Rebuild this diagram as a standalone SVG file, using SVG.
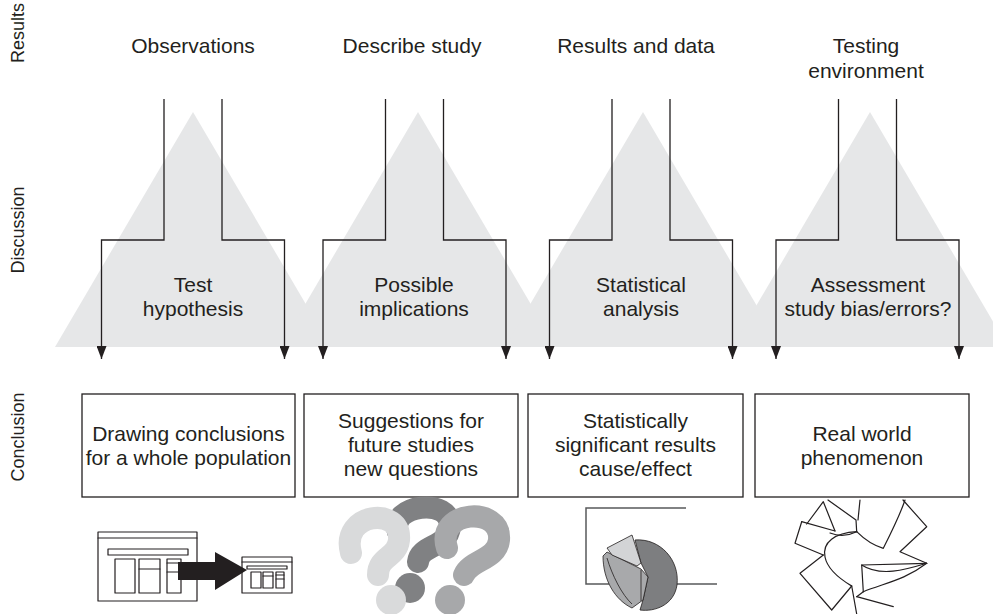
<svg xmlns="http://www.w3.org/2000/svg" width="993" height="614" viewBox="0 0 993 614">
  <defs>
    <marker id="head" viewBox="0 0 13 10" refX="13" refY="5" markerWidth="13" markerHeight="10" markerUnits="userSpaceOnUse" orient="auto">
      <path d="M0,0 L13,5 L0,10 Z" fill="#231f20"/>
    </marker>
  </defs>
  <style>
    text { font-family: "Liberation Sans", Arial, Helvetica, sans-serif; fill: #231f20; }
    .lbl { font-size: 21px; text-anchor: middle; }
    .side { font-size: 18px; text-anchor: middle; }
    .tri { fill: #e6e7e8; }
    .box { fill: #ffffff; stroke: #231f20; stroke-width: 1.3; }
    .flow { fill: none; stroke: #231f20; stroke-width: 1.3; marker-end: url(#head); }
    .ink { fill: none; stroke: #231f20; stroke-width: 1.2; stroke-linejoin: round; stroke-linecap: round; }
  </style>

  <rect width="993" height="614" fill="#ffffff"/>

  <!-- row captions -->
  <g id="row-labels">
    <text class="side" transform="translate(24,33) rotate(-90)">Results</text>
    <text class="side" transform="translate(24,230) rotate(-90)">Discussion</text>
    <text class="side" transform="translate(24,437) rotate(-90)">Conclusion</text>
  </g>

  <!-- grey discussion peaks -->
  <g id="peaks">
    <polygon class="tri" points="193,112 331,347 55,347"/>
    <polygon class="tri" points="418,112 556,347 280,347"/>
    <polygon class="tri" points="643,112 781,347 505,347"/>
    <polygon class="tri" points="870,112 1008,347 732,347"/>
  </g>

  <!-- results labels -->
  <g id="res-observations"><text class="lbl" x="193" y="53">Observations</text></g>
  <g id="res-describe"><text class="lbl" x="412" y="53">Describe study</text></g>
  <g id="res-data"><text class="lbl" x="636" y="53">Results and data</text></g>
  <g id="res-testing">
    <text class="lbl" x="866" y="53">Testing</text>
    <text class="lbl" x="866" y="78">environment</text>
  </g>

  <!-- connectors -->
  <g id="connectors">
    <path class="flow" d="M164,99 V240 H101.5 V359"/>
    <path class="flow" d="M222,99 V240 H284.5 V359"/>
    <path class="flow" d="M385.5,99 V240 H323 V359"/>
    <path class="flow" d="M443.5,99 V240 H506 V359"/>
    <path class="flow" d="M612,99 V240 H549.5 V359"/>
    <path class="flow" d="M670,99 V240 H732.5 V359"/>
    <path class="flow" d="M838.5,99 V240 H776 V359"/>
    <path class="flow" d="M896.5,99 V240 H959 V359"/>
  </g>

  <!-- discussion labels -->
  <g id="dis-test">
    <text class="lbl" x="193" y="292">Test</text>
    <text class="lbl" x="193" y="316">hypothesis</text>
  </g>
  <g id="dis-implications">
    <text class="lbl" x="414" y="292">Possible</text>
    <text class="lbl" x="414" y="316">implications</text>
  </g>
  <g id="dis-statistical">
    <text class="lbl" x="641" y="292">Statistical</text>
    <text class="lbl" x="641" y="316">analysis</text>
  </g>
  <g id="dis-assessment">
    <text class="lbl" x="868" y="292">Assessment</text>
    <text class="lbl" x="868" y="316">study bias/errors?</text>
  </g>

  <!-- conclusion boxes -->
  <g id="con-population">
    <rect class="box" x="82" y="394" width="213" height="103"/>
    <text class="lbl" x="188.5" y="440.5">Drawing conclusions</text>
    <text class="lbl" x="188.5" y="464.5">for a whole population</text>
  </g>
  <g id="con-future">
    <rect class="box" x="304" y="394" width="214" height="103"/>
    <text class="lbl" x="411" y="428">Suggestions for</text>
    <text class="lbl" x="411" y="452">future studies</text>
    <text class="lbl" x="411" y="476">new questions</text>
  </g>
  <g id="con-significant">
    <rect class="box" x="528" y="394" width="215" height="103"/>
    <text class="lbl" x="635.5" y="428">Statistically</text>
    <text class="lbl" x="635.5" y="452">significant results</text>
    <text class="lbl" x="635.5" y="476">cause/effect</text>
  </g>
  <g id="con-real">
    <rect class="box" x="755" y="394" width="214" height="103"/>
    <text class="lbl" x="862" y="440.5">Real world</text>
    <text class="lbl" x="862" y="464.5">phenomenon</text>
  </g>

  <!-- icon: scaling a page down -->
  <g id="icon-pages">
    <rect class="ink" x="98" y="532" width="99" height="69"/>
    <line class="ink" x1="98" y1="538" x2="197" y2="538"/>
    <rect class="ink" x="108" y="549" width="80" height="6"/>
    <rect class="ink" x="115" y="559" width="20" height="34"/>
    <rect class="ink" x="139" y="559" width="21" height="34"/>
    <line class="ink" x1="139" y1="569" x2="160" y2="569"/>
    <rect class="ink" x="167" y="559" width="14" height="34"/>
    <line class="ink" x1="167" y1="563" x2="181" y2="563"/>
    <line class="ink" x1="167" y1="572" x2="181" y2="572"/>
    <polygon points="178,562 215,562 215,552 247,570 215,590 215,580 178,580" fill="#231f20"/>
    <rect class="ink" x="242" y="557" width="50" height="36"/>
    <line class="ink" x1="242" y1="562" x2="292" y2="562"/>
    <rect class="ink" x="247" y="566" width="40" height="3"/>
    <rect class="ink" x="251" y="572" width="10" height="16"/>
    <rect class="ink" x="263" y="572" width="10" height="16"/>
    <line class="ink" x1="263" y1="576" x2="273" y2="576"/>
    <rect class="ink" x="276" y="572" width="8" height="16"/>
    <line class="ink" x1="276" y1="575" x2="284" y2="575"/>
    <line class="ink" x1="276" y1="579" x2="284" y2="579"/>
  </g>

  <!-- icon: question marks -->
  <g id="icon-questions" fill="none" stroke-linecap="round" stroke-linejoin="round">
    <path d="M398,532 C388,505 452,496 450,527 C448,548 420,544 418,562" stroke="#808183" stroke-width="22"/>
    <circle cx="410" cy="588" r="15" fill="#808183"/>
    <path d="M351,553 C340,512 402,506 399,540 C397,558 378,556 378,575" stroke="#d9dadb" stroke-width="22"/>
    <circle cx="391" cy="600" r="15" fill="#d9dadb"/>
    <path d="M447,548 C435,510 502,505 499,540 C497,560 470,560 464,575" stroke="#a7a8aa" stroke-width="22"/>
    <circle cx="450" cy="600" r="15" fill="#a7a8aa"/>
  </g>

  <!-- icon: pie chart on axes -->
  <g id="icon-pie">
    <polyline points="686,508 586,508 586,584 717,584" fill="none" stroke="#58595b" stroke-width="1.5"/>
    <path d="M635,540 C660,538 680,560 677,585 C674,605 655,612 640,610 L643,600 L648,577 L641,563 Z" fill="#7d7e80" stroke="#231f20" stroke-width="0.8"/>
    <path d="M603,556 L607,552 L641,569 L648,577 L643,600 L632,608 C615,600 603,580 603,556 Z" fill="#a8a9ab" stroke="#231f20" stroke-width="0.8"/>
    <path d="M607,558 C612,575 622,595 632,604 M641,570 L641,601" fill="none" stroke="#231f20" stroke-width="0.8"/>
    <path d="M607,548 L632,535 L641,563 L637,566 L612,555 Z" fill="#d3d4d6" stroke="#231f20" stroke-width="0.8"/>
  </g>

  <!-- icon: crumpled sheet -->
  <g id="icon-crumple" class="ink">
    <path class="ink" d="M801.7,521.7 L795,543.3 L823.3,555"/>
    <path class="ink" d="M801.7,521.7 L835,531"/>
    <path class="ink" d="M806.7,524 L823.3,501.7 L835,531"/>
    <path class="ink" d="M830,533 C840,537 850,535 856.7,531.7"/>
    <path class="ink" d="M828,500 L856,520 L856.7,531.7"/>
    <path class="ink" d="M860,500 L858,520"/>
    <path class="ink" d="M856.7,531.7 C865,540 875,546 883.3,548.3 C890,535 900,515 905,500"/>
    <path class="ink" d="M903,500 L926.7,526.7 L900,551.7 L926.7,563.3"/>
    <path class="ink" d="M926.7,563.3 L861.7,565 L863.3,591.7"/>
    <path class="ink" d="M861.7,565 C880,577 905,570 926.7,563.3"/>
    <path class="ink" d="M863.3,591.7 C885,583 905,580 926.7,563.3"/>
    <path class="ink" d="M856.7,531.7 C835,533 822,542 825,557 C828,572 845,582 851.7,586"/>
    <path class="ink" d="M823.3,555 L800,573.3 L831.7,610 L851.7,586"/>
    <path class="ink" d="M851.7,586 L856.7,614"/>
    <path class="ink" d="M856.7,596.7 L893.3,606.7"/>
    <path class="ink" d="M863.3,591.7 L856.7,596.7"/>
  </g>
</svg>
